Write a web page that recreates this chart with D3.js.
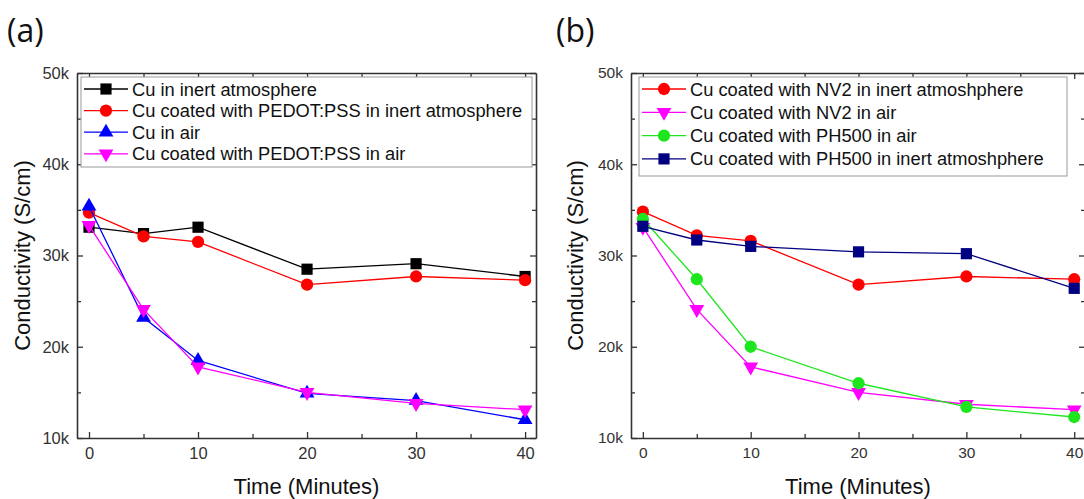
<!DOCTYPE html>
<html>
<head>
<meta charset="utf-8">
<script src="https://cdn.jsdelivr.net/npm/d3@7"></script>
<style>
  body { margin: 0; background: #fff; }
  svg { display: block; font-family: "Liberation Sans", Arial, sans-serif; }
</style>
</head>
<body>
<div class="container"></div>
<script>
var width = 1084;
var height = 499;
var plotTop = 73;
var plotBottom = 438;

var times = [0, 5, 10, 20, 30, 40];
var xTicks = [0, 10, 20, 30, 40];
var xMinor = [5, 15, 25, 35];
var yTicks = [10000, 20000, 30000, 40000, 50000];
var yMinor = [15000, 25000, 35000, 45000];

// panel (a)
var cuInert = [33100, 32400, 33100, 28500, 29100, 27700];
var pedotInert = [34700, 32100, 31500, 26800, 27700, 27300];
var cuAir = [35400, 23200, 18500, 14900, 14100, 12000];
var pedotAir = [33300, 24100, 17800, 15000, 13800, 13100];

// panel (b)
var nv2Inert = [34800, 32200, 31600, 26800, 27700, 27400];
var nv2Air = [33100, 24100, 17800, 15000, 13700, 13100];
var ph500Air = [34000, 27400, 20000, 16000, 13400, 12300];
var ph500Inert = [33200, 31700, 31000, 30400, 30200, 26400];

var namesA = ['Cu in inert atmosphere', 'Cu coated with PEDOT:PSS in inert atmosphere',
              'Cu in air', 'Cu coated with PEDOT:PSS in air'];
var namesB = ['Cu coated with NV2 in inert atmoshphere', 'Cu coated with NV2 in air',
              'Cu coated with PH500 in air', 'Cu coated with PH500 in inert atmoshphere'];

var translate = function(x, y) {
    return 'translate(' + x + ',' + y + ')';
};

var panels = [
    {
        label: '(a)', labelX: 7, left: 77, right: 536, tickFont: 16.5, yTitleX: 30,
        legend: {x: 81, y: 77, w: 451, h: 90, row: 21.6, font: 18.3},
        series: [
            {name: namesA[0], values: cuInert, color: '#000000', shape: 'square'},
            {name: namesA[1], values: pedotInert, color: '#ff0000', shape: 'circle'},
            {name: namesA[2], values: cuAir, color: '#0000ff', shape: 'up'},
            {name: namesA[3], values: pedotAir, color: '#ff00ff', shape: 'down'}
        ]
    },
    {
        label: '(b)', labelX: 556, left: 631, right: 1085, tickFont: 15.5, yTitleX: 583,
        legend: {x: 639, y: 77, w: 428, h: 99, row: 23.3, font: 18.3},
        series: [
            {name: namesB[0], values: nv2Inert, color: '#ff0000', shape: 'circle'},
            {name: namesB[1], values: nv2Air, color: '#ff00ff', shape: 'down'},
            {name: namesB[2], values: ph500Air, color: '#1ee61e', shape: 'circle'},
            {name: namesB[3], values: ph500Inert, color: '#000080', shape: 'square'}
        ]
    }
];

var symbolPath = function(shape) {
    if (shape == 'square') return d3.symbol(d3.symbolSquare, 125)();
    if (shape == 'circle') return d3.symbol(d3.symbolCircle, 118)();
    return d3.symbol(d3.symbolTriangle, 95)();
};

var symbolRotate = function(shape) {
    return shape == 'down' ? ' rotate(180)' : '';
};

var drawPanel = function(svg, cfg) {
    var x = d3.scaleLinear().domain([-1.1, 41]).range([cfg.left, cfg.right]);
    var y = d3.scaleLinear().domain([10000, 50000]).range([plotBottom, plotTop]);
    var g = svg.append('g');

    // axes, all ticks pointing inward
    var fmt = function(d) { return (d / 1000) + 'k'; };
    var axes = [
        {a: d3.axisBottom(x).tickValues(xTicks), pos: translate(0, plotBottom), labels: true, pad: 9},
        {a: d3.axisTop(x).tickValues(xTicks), pos: translate(0, plotTop), labels: false, pad: 8},
        {a: d3.axisLeft(y).tickValues(yTicks).tickFormat(fmt), pos: translate(cfg.left, 0), labels: true, pad: 8},
        {a: d3.axisRight(y).tickValues(yTicks), pos: translate(cfg.right, 0), labels: false, pad: 8}
    ];
    axes.forEach(function(ax) {
        var a = ax.a.tickSizeInner(-6).tickSizeOuter(0).tickPadding(ax.pad);
        if (!ax.labels) a.tickFormat('');
        var sel = g.append('g').attr('transform', ax.pos).call(a);
        sel.select('.domain').attr('stroke', '#333').attr('stroke-width', 1.6);
        sel.selectAll('.tick line').attr('stroke', '#333').attr('stroke-width', 1.3);
        sel.selectAll('.tick text').attr('fill', '#333').style('font-size', cfg.tickFont + 'px')
            .style('font-family', '"Liberation Sans", Arial, sans-serif');
    });

    var minors = [
        {a: d3.axisBottom(x).tickValues(xMinor), pos: translate(0, plotBottom)},
        {a: d3.axisTop(x).tickValues(xMinor), pos: translate(0, plotTop)},
        {a: d3.axisLeft(y).tickValues(yMinor), pos: translate(cfg.left, 0)},
        {a: d3.axisRight(y).tickValues(yMinor), pos: translate(cfg.right, 0)}
    ];
    minors.forEach(function(ax) {
        var sel = g.append('g').attr('transform', ax.pos)
            .call(ax.a.tickSizeInner(-4).tickSizeOuter(0).tickFormat(''));
        sel.select('.domain').remove();
        sel.selectAll('.tick line').attr('stroke', '#333').attr('stroke-width', 1.3);
    });

    // data
    var line = d3.line()
        .x(function(d, i) { return x(times[i]); })
        .y(function(d) { return y(d); });

    cfg.series.forEach(function(s) {
        var sg = g.append('g');
        sg.append('path')
            .attr('d', line(s.values))
            .attr('fill', 'none')
            .attr('stroke', s.color)
            .attr('stroke-width', 1.3);
        sg.selectAll('path.pt').data(s.values).enter().append('path')
            .classed('pt', true)
            .attr('d', symbolPath(s.shape))
            .attr('fill', s.color)
            .attr('transform', function(d, i) {
                return translate(x(times[i]), y(d)) + symbolRotate(s.shape);
            });
    });

    // legend
    var L = cfg.legend;
    var lg = g.append('g').attr('transform', translate(L.x, L.y));
    lg.append('rect')
        .attr('width', L.w).attr('height', L.h)
        .attr('fill', '#fff').attr('stroke', '#999').attr('stroke-width', 1);
    cfg.series.forEach(function(s, i) {
        var ry = 12 + i * L.row;
        var row = lg.append('g').attr('transform', translate(0, ry));
        row.append('line').attr('x1', 3).attr('x2', 47).attr('y1', 0).attr('y2', 0)
            .attr('stroke', s.color).attr('stroke-width', 1.3);
        row.append('path').attr('d', symbolPath(s.shape)).attr('fill', s.color)
            .attr('transform', translate(25, 0) + symbolRotate(s.shape));
        row.append('text').attr('x', 51).attr('dy', '0.36em')
            .style('font-size', L.font + 'px').attr('fill', '#111')
            .text(s.name);
    });

    // titles
    g.append('text')
        .attr('x', (cfg.left + cfg.right) / 2).attr('y', 494)
        .attr('text-anchor', 'middle').style('font-size', '22px').attr('fill', '#111')
        .text('Time (Minutes)');
    g.append('text')
        .attr('transform', translate(cfg.yTitleX, (plotTop + plotBottom) / 2) + ' rotate(-90)')
        .attr('text-anchor', 'middle').style('font-size', '22px').attr('fill', '#111')
        .text('Conductivity (S/cm)');
    g.append('text')
        .attr('x', cfg.labelX).attr('y', 42)
        .style('font-family', '"Open Sans", "Noto Sans", sans-serif')
        .style('font-size', '32px').attr('fill', '#111')
        .text(cfg.label);
};

var createChart = function() {
    var svg = d3.select('.container').append('svg')
        .attr('width', width)
        .attr('height', height);
    panels.forEach(function(p) { drawPanel(svg, p); });
};

createChart();
</script>
</body>
</html>
